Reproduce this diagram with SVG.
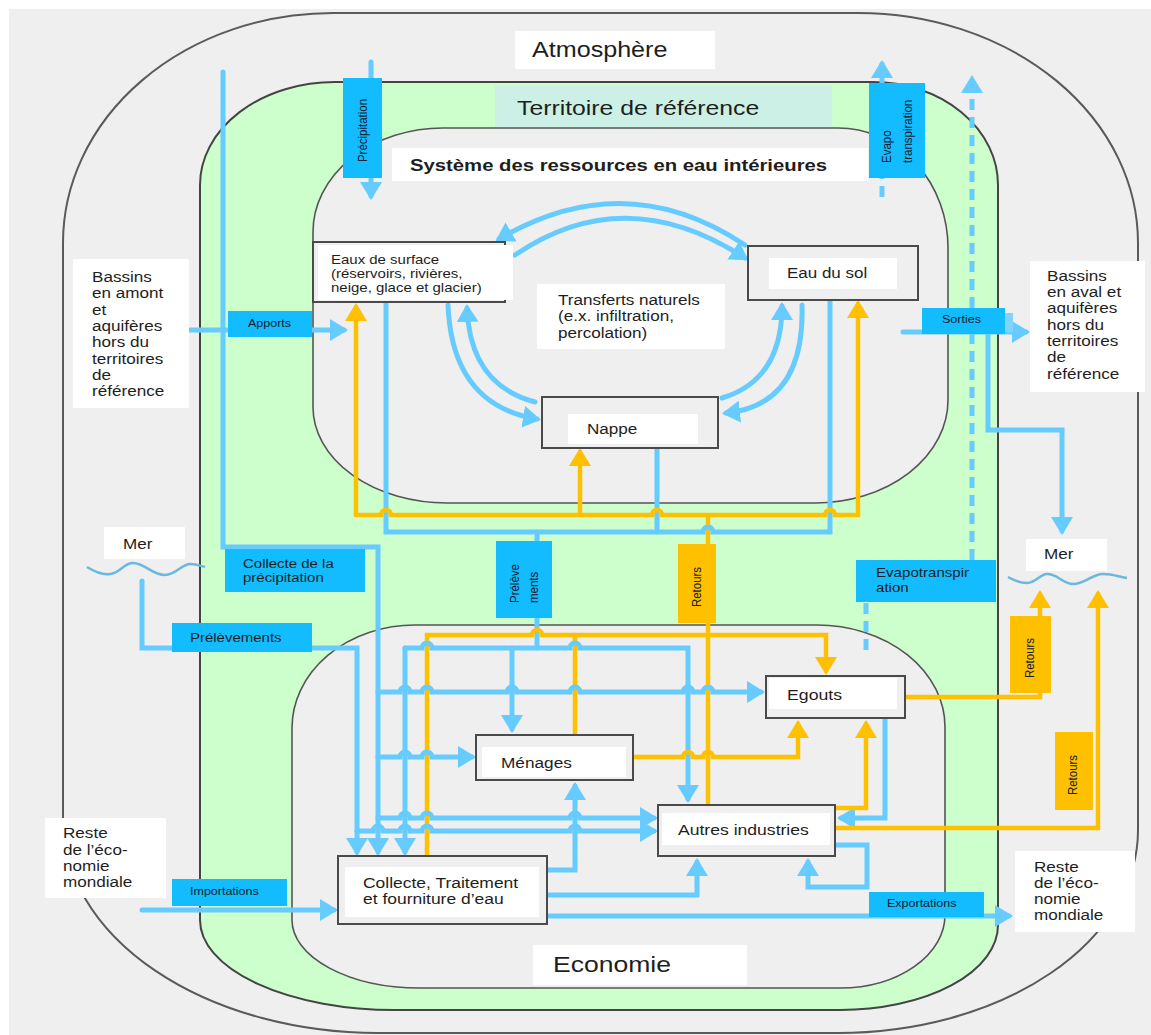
<svg xmlns="http://www.w3.org/2000/svg" width="1151" height="1035" viewBox="0 0 1151 1035">
<style>
.bd{fill:none;stroke:#5a5a5a;stroke-width:2}
.b{fill:none;stroke:#66ccff;stroke-width:5;stroke-linecap:round}
.y{fill:none;stroke:#ffc000;stroke-width:4.5;stroke-linecap:round}
.d{fill:none;stroke:#66ccff;stroke-width:5;stroke-dasharray:11 7}
.lb{fill:#12bcff}
.ly{fill:#ffc000}
.w{fill:#ffffff}
.fr{fill:#efefef;stroke:#4a4a4a;stroke-width:2}
.wave{fill:none;stroke:#6ab8e0;stroke-width:2.5}
text{font-family:"Liberation Sans",Arial,sans-serif;fill:#1e1e1e}
.sm{font-size:10.6px;fill:#10202e}
.rot{font-size:11.5px;fill:#10202e}
</style>
<defs>
<marker id="mb" markerUnits="userSpaceOnUse" viewBox="0 0 18 22" markerWidth="18" markerHeight="22" refX="14" refY="11" orient="auto"><path d="M0,0 L18,11 L0,22 z" fill="#66ccff"/></marker>
<marker id="my" markerUnits="userSpaceOnUse" viewBox="0 0 18 22" markerWidth="18" markerHeight="22" refX="14" refY="11" orient="auto"><path d="M0,0 L18,11 L0,22 z" fill="#ffc000"/></marker>
</defs>
<rect x="0" y="0" width="1151" height="1035" fill="#ffffff"/>
<rect x="9" y="9" width="1142" height="1026" fill="#efefef"/>
<g id="regions">
<path class="bd" d="M63,243 A270,230 0 0 1 333,13 H858 A280,230 0 0 1 1138,243 V830 A300,203 0 0 1 838,1033 H378 A315,213 0 0 1 63,820 Z"/>
<path d="M200,185 A135,103 0 0 1 335,82 H873 A125,103 0 0 1 998,185 V925 A158,85 0 0 1 840,1010 H395 A195,90 0 0 1 200,920 Z" fill="#ccffcc" stroke="#444" stroke-width="2"/>
<path d="M313,232 A130,104 0 0 1 443,128 H838 A110,120 0 0 1 948,248 V400 A133,103 0 0 1 815,503 H447 A134,96 0 0 1 313,407 Z" fill="#efefef" stroke="#555" stroke-width="1.6"/>
<path d="M292,728 A123,103 0 0 1 415,625 H817 A128,102 0 0 1 945,727 V915 A105,73 0 0 1 840,988 H420 A128,68 0 0 1 292,920 Z" fill="#efefef" stroke="#555" stroke-width="1.6"/>
</g>
<g id="region-labels">
<g id="lbl-atmosphere"><rect class="w" x="515" y="31" width="200" height="38"/><text transform="translate(532,57) scale(1.18,1)" font-size="21.3">Atmosphère</text></g>
<g id="lbl-territoire"><rect x="495" y="85" width="337" height="42" fill="#ccf0e6"/><text transform="translate(517,115) scale(1.18,1)" font-size="21">Territoire de référence</text></g>
<g id="lbl-systeme"><rect class="w" x="392" y="148" width="476" height="33"/><text transform="translate(410,171) scale(1.18,1)" font-size="17.2" font-weight="bold">Système des ressources en eau intérieures</text></g>
<g id="lbl-economie"><rect class="w" x="533" y="945" width="214" height="40"/><text transform="translate(553,972) scale(1.18,1)" font-size="22.5">Economie</text></g>
</g>
<g id="connectors">
<path class="y" d="M708,515 V803"/>
<path class="y" d="M575,735 V635"/>
<path class="b" d="M371,62 V196" marker-end="url(#mb)"/>
<path class="b" d="M223,72 V547 H378 V852" marker-end="url(#mb)"/>
<path class="b" d="M142,581 V648 H357 V852" marker-end="url(#mb)"/>
<path class="b" d="M142,910 H334" marker-end="url(#mb)"/>
<path class="b" d="M190,330 H344" marker-end="url(#mb)"/>
<path class="b" d="M903,332 H1026" marker-end="url(#mb)"/>
<rect x="1005" y="313" width="8" height="19" fill="#80d4ff"/>
<path class="b" d="M988,332 V430 H1062 V531" marker-end="url(#mb)"/>
<path class="b" d="M657,448 V532"/>
<path class="b" d="M537,532 V648"/>
<path class="b" d="M405,648 V852" marker-end="url(#mb)"/>
<path class="b" d="M512,648 V729" marker-end="url(#mb)"/>
<path class="b" d="M547,870 H575 V786" marker-end="url(#mb)"/>
<path class="b" d="M547,895 H697 V862" marker-end="url(#mb)"/>
<path class="b" d="M547,916 H1009" marker-end="url(#mb)"/>
<path class="b" d="M885,718 V818 H841" marker-end="url(#mb)"/>
<path class="b" d="M835,845 H867 V887 H808 V862" marker-end="url(#mb)"/>
<path class="b" d="M745,245 Q625,165 499,239" marker-end="url(#mb)"/>
<path class="b" d="M515,255 Q625,180 745,258" marker-end="url(#mb)"/>
<path class="b" d="M448,305 Q452,405 537,419" marker-end="url(#mb)"/>
<path class="b" d="M535,402 Q470,385 467,308" marker-end="url(#mb)"/>
<path class="b" d="M722,398 Q782,380 782,306" marker-end="url(#mb)"/>
<path class="b" d="M802,305 Q805,405 726,413" marker-end="url(#mb)"/>
<path class="d" d="M972,560 V79" marker-end="url(#mb)"/>
<path class="d" d="M866,603 V652"/>
<path class="d" d="M882,197 V83"/>
<path class="b" d="M882,83 V64" marker-end="url(#mb)"/>
<path class="y" d="M427,856 V635 H532 a5,5 0 0 1 10,0 H826 V671" marker-end="url(#my)"/>
<path class="b" d="M386,303 V532 H703 a5,5 0 0 1 10,0 H830 V300"/>
<path class="b" d="M405,648 H422 a5,5 0 0 1 10,0 H570 a5,5 0 0 1 10,0 H688 V799" marker-end="url(#mb)"/>
<path class="y" d="M356,515 V307" marker-end="url(#my)"/>
<path class="y" d="M356,515 H381 a5,5 0 0 1 10,0 H652 a5,5 0 0 1 10,0 H825 a5,5 0 0 1 10,0 H858 V304" marker-end="url(#my)"/>
<path class="y" d="M580,515 V452" marker-end="url(#my)"/>
<path class="b" d="M378,692 H400 a5,5 0 0 1 10,0 H422 a5,5 0 0 1 10,0 H507 a5,5 0 0 1 10,0 H570 a5,5 0 0 1 10,0 H683 a5,5 0 0 1 10,0 H703 a5,5 0 0 1 10,0 H761" marker-end="url(#mb)"/>
<path class="b" d="M378,757 H400 a5,5 0 0 1 10,0 H422 a5,5 0 0 1 10,0 H472" marker-end="url(#mb)"/>
<path class="b" d="M378,818 H400 a5,5 0 0 1 10,0 H422 a5,5 0 0 1 10,0 H570 a5,5 0 0 1 10,0 H654" marker-end="url(#mb)"/>
<path class="b" d="M357,831 H373 a5,5 0 0 1 10,0 H400 a5,5 0 0 1 10,0 H422 a5,5 0 0 1 10,0 H570 a5,5 0 0 1 10,0 H654" marker-end="url(#mb)"/>
<path class="y" d="M633,757 H683 a5,5 0 0 1 10,0 H703 a5,5 0 0 1 10,0 H798 V724" marker-end="url(#my)"/>
<path class="y" d="M835,808 H866 V724" marker-end="url(#my)"/>
<path class="y" d="M905,697 H1040 V594" marker-end="url(#my)"/>
<path class="y" d="M835,828 H1098 V594" marker-end="url(#my)"/>
</g>
<g id="flow-labels">
<g id="lbl-precipitation"><rect class="lb" x="343" y="78" width="39" height="100"/><text class="rot" transform="translate(367,130.5) scale(1.18,1) rotate(-90)" text-anchor="middle">Précipitation</text></g>
<g id="lbl-evapo"><rect class="lb" x="869" y="83" width="56" height="95"/><text class="rot" transform="translate(891,163) scale(1.18,1) rotate(-90)">Evapo</text><text class="rot" transform="translate(912,163) scale(1.18,1) rotate(-90)">transpiration</text></g>
<g id="lbl-apports"><rect class="lb" x="228" y="311" width="84" height="26"/><text class="sm" transform="translate(248,327) scale(1.18,1)">Apports</text></g>
<g id="lbl-sorties"><rect class="lb" x="922" y="308" width="83" height="26"/><text class="sm" transform="translate(942,323) scale(1.18,1)">Sorties</text></g>
<g id="lbl-prelevements-res"><rect class="lb" x="496" y="541" width="56" height="77"/><text class="rot" transform="translate(519,603) scale(1.18,1) rotate(-90)">Prélève</text><text class="rot" transform="translate(538,603) scale(1.18,1) rotate(-90)">ments</text></g>
<g id="lbl-retours-1"><rect class="ly" x="678" y="544" width="38" height="79"/><text class="rot" transform="translate(701,587) scale(1.18,1) rotate(-90)" text-anchor="middle">Retours</text></g>
<g id="lbl-retours-2"><rect class="ly" x="1010" y="616" width="41" height="77"/><text class="rot" transform="translate(1034,658) scale(1.18,1) rotate(-90)" text-anchor="middle">Retours</text></g>
<g id="lbl-retours-3"><rect class="ly" x="1055" y="732" width="38" height="78"/><text class="rot" transform="translate(1077,775) scale(1.18,1) rotate(-90)" text-anchor="middle">Retours</text></g>
<g id="lbl-collecte-precip"><rect class="lb" x="225" y="549" width="140" height="43"/><text transform="translate(243,0) scale(1.18,1)" font-size="12.7" fill="#10202e"><tspan x="0" y="568">Collecte de la</tspan><tspan x="0" y="582">précipitation</tspan></text></g>
<g id="lbl-prelevements-mer"><rect class="lb" x="172" y="623" width="140" height="29"/><text transform="translate(190,642) scale(1.18,1)" font-size="12.7" fill="#10202e">Prélèvements</text></g>
<g id="lbl-evapotranspiration"><rect class="lb" x="856" y="560" width="140" height="42"/><text transform="translate(876,0) scale(1.18,1)" font-size="12.8" fill="#10202e"><tspan x="0" y="577">Evapotranspir</tspan><tspan x="0" y="592">ation</tspan></text></g>
<g id="lbl-importations"><rect class="lb" x="172" y="879" width="115" height="27"/><text class="sm" transform="translate(190,895) scale(1.18,1)">Importations</text></g>
<g id="lbl-exportations"><rect class="lb" x="869" y="892" width="115" height="25"/><text class="sm" transform="translate(887,907) scale(1.18,1)">Exportations</text></g>
</g>
<g id="node-bassins-amont"><rect class="w" x="73" y="259" width="116" height="149"/><text transform="translate(92,0) scale(1.18,1)" font-size="14.5"><tspan x="0" y="282">Bassins</tspan><tspan x="0" y="298.5">en amont</tspan><tspan x="0" y="315">et</tspan><tspan x="0" y="331">aquifères</tspan><tspan x="0" y="347.5">hors du</tspan><tspan x="0" y="364">territoires</tspan><tspan x="0" y="380">de</tspan><tspan x="0" y="396.5">référence</tspan></text></g>
<g id="node-bassins-aval"><rect class="w" x="1030" y="261" width="115" height="131"/><text transform="translate(1047,0) scale(1.18,1)" font-size="14.5"><tspan x="0" y="281">Bassins</tspan><tspan x="0" y="297">en aval et</tspan><tspan x="0" y="313.5">aquifères</tspan><tspan x="0" y="330">hors du</tspan><tspan x="0" y="346">territoires</tspan><tspan x="0" y="362.5">de</tspan><tspan x="0" y="379">référence</tspan></text></g>
<g id="node-eaux-surface"><rect class="fr" x="313" y="242" width="192" height="60"/><rect class="w" x="318" y="245" width="195" height="55"/><text transform="translate(331,0) scale(1.18,1)" font-size="12.7"><tspan x="0" y="264">Eaux de surface</tspan><tspan x="0" y="278">(réservoirs, rivières,</tspan><tspan x="0" y="292">neige, glace et glacier)</tspan></text></g>
<g id="node-eau-sol"><rect class="fr" x="748" y="246" width="170" height="54"/><rect class="w" x="769" y="258" width="128" height="31"/><text transform="translate(787,278) scale(1.18,1)" font-size="14.4">Eau du sol</text></g>
<g id="node-transferts"><rect class="w" x="537" y="284" width="188" height="65"/><text transform="translate(558,0) scale(1.18,1)" font-size="14.5"><tspan x="0" y="305">Transferts naturels</tspan><tspan x="0" y="321.5">(e.x. infiltration,</tspan><tspan x="0" y="338">percolation)</tspan></text></g>
<g id="node-nappe"><rect class="fr" x="542" y="397" width="176" height="51"/><rect class="w" x="568" y="414" width="130" height="30"/><text transform="translate(587,434) scale(1.18,1)" font-size="14.5">Nappe</text></g>
<g id="node-mer-gauche"><rect class="w" x="104" y="527" width="81" height="32"/><text transform="translate(123,549) scale(1.18,1)" font-size="14.5">Mer</text><path class="wave" d="M87,567 C95,572 103,575 110,574 C120,573 124,563 133,563 C145,563 152,575 165,575 C176,575 182,564 190,564 C197,564 201,566 205,567"/></g>
<g id="node-mer-droite"><rect class="w" x="1026" y="539" width="81" height="32"/><text transform="translate(1044,559) scale(1.18,1)" font-size="14.5">Mer</text><path class="wave" d="M1008,577 C1015,581 1020,583 1027,583 C1036,583 1040,574 1047,574 C1058,574 1063,584 1073,584 C1085,584 1092,574 1103,574 C1113,574 1120,577 1127,578"/></g>
<g id="node-egouts"><rect class="fr" x="766" y="676" width="139" height="42"/><rect class="w" x="769" y="678" width="128" height="31"/><text transform="translate(787,700) scale(1.18,1)" font-size="15">Egouts</text></g>
<g id="node-menages"><rect class="fr" x="476" y="735" width="157" height="45"/><rect class="w" x="482" y="747" width="144" height="30"/><text transform="translate(501,768) scale(1.18,1)" font-size="14.6">Ménages</text></g>
<g id="node-autres-industries"><rect class="fr" x="658" y="805" width="177" height="51"/><rect class="w" x="662" y="813" width="168" height="32"/><text transform="translate(678,835) scale(1.18,1)" font-size="14.9">Autres industries</text></g>
<g id="node-collecte"><rect class="fr" x="338" y="856" width="209" height="68"/><rect class="w" x="345" y="867" width="194" height="50"/><text transform="translate(363,0) scale(1.18,1)" font-size="14.8"><tspan x="0" y="888">Collecte, Traitement</tspan><tspan x="0" y="904">et fourniture d’eau</tspan></text></g>
<g id="node-reste-gauche"><rect class="w" x="45" y="818" width="121" height="80"/><text transform="translate(63,0) scale(1.18,1)" font-size="14.5"><tspan x="0" y="838">Reste</tspan><tspan x="0" y="855">de l’éco-</tspan><tspan x="0" y="871.5">nomie</tspan><tspan x="0" y="887.5">mondiale</tspan></text></g>
<g id="node-reste-droite"><rect class="w" x="1015" y="851" width="120" height="81"/><text transform="translate(1034,0) scale(1.18,1)" font-size="14.5"><tspan x="0" y="872">Reste</tspan><tspan x="0" y="888">de l’éco-</tspan><tspan x="0" y="904">nomie</tspan><tspan x="0" y="920">mondiale</tspan></text></g>
</svg>
